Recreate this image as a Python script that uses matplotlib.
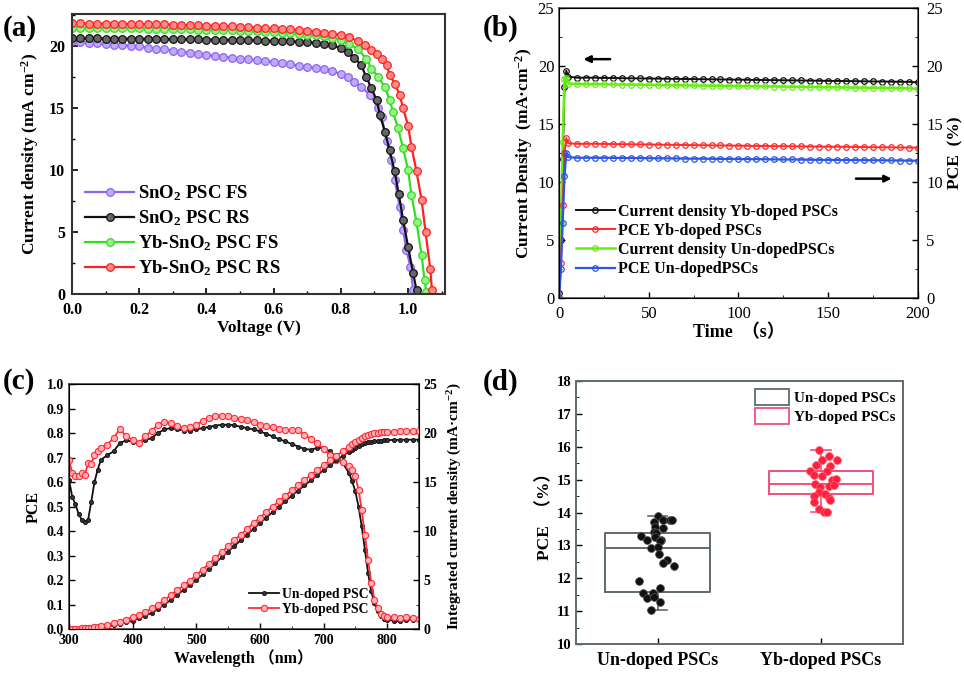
import matplotlib.pyplot as plt
import numpy as np
from matplotlib.ticker import MultipleLocator
from matplotlib.patches import Patch

plt.rcParams['font.family'] = ['Liberation Serif', 'Noto Sans CJK SC']
plt.rcParams['font.weight'] = 'bold'
plt.rcParams['axes.labelweight'] = 'bold'
plt.rcParams['mathtext.fontset'] = 'custom'
plt.rcParams['mathtext.rm'] = 'Liberation Serif:bold'
plt.rcParams['mathtext.bf'] = 'Liberation Serif:bold'
plt.rcParams['mathtext.default'] = 'bf'
plt.rcParams['xtick.direction'] = 'in'
plt.rcParams['ytick.direction'] = 'in'

# ---- (a) J-V curves ----
v_fs = [0, .025, .05, .075, .1, .125, .15, .175, .2, .225, .25, .275, .3, .325, .35, .375, .4, .425, .45, .475,
        .5, .525, .55, .575, .6, .625, .65, .675, .7, .725, .75, .775, .8, .82, .84, .86, .886, .911, .921, .936,
        .95, .96, .975, .985, .995, 1.007, 1.015]
j_fs = [20.4, 20.35, 20.3, 20.25, 20.2, 20.15, 20.1, 20.05, 20.0, 19.9, 19.8, 19.75, 19.65, 19.55, 19.5, 19.4,
        19.3, 19.25, 19.15, 19.1, 19.0, 18.95, 18.9, 18.8, 18.75, 18.65, 18.55, 18.45, 18.35, 18.25, 18.15, 18.0,
        17.75, 17.5, 17.15, 16.75, 16.1, 15.0, 14.3, 12.4, 10.8, 9.2, 7.05, 5.2, 3.55, 2.2, 0.3]
v_rs = [0, .025, .05, .075, .1, .125, .15, .175, .2, .225, .25, .275, .3, .325, .35, .375, .4, .425, .45, .475,
        .5, .525, .55, .575, .6, .625, .65, .675, .7, .725, .75, .775, .8, .82, .84, .86, .876, .891, .906, .916,
        .931, .945, .96, .972, .985, 1.0, 1.015, 1.025]
j_rs = [20.65, 20.65, 20.64, 20.64, 20.63, 20.63, 20.62, 20.62, 20.61, 20.6, 20.6, 20.59, 20.58, 20.58, 20.57,
        20.56, 20.55, 20.54, 20.53, 20.52, 20.51, 20.5, 20.49, 20.47, 20.45, 20.43, 20.41, 20.38, 20.35, 20.28,
        20.2, 20.08, 19.85, 19.55, 19.1, 18.5, 17.5, 16.6, 15.7, 14.5, 13.1, 11.6, 9.9, 8.1, 6.0, 3.8, 1.7, 0.3]
v_ybfs = [0, .025, .05, .075, .1, .125, .15, .175, .2, .225, .25, .275, .3, .325, .35, .375, .4, .425, .45, .475,
          .5, .525, .55, .575, .6, .625, .65, .675, .7, .725, .75, .775, .8, .825, .85, .876, .891, .911, .931,
          .945, .955, .97, .985, 1.0, 1.01, 1.025, 1.04, 1.049, 1.054]
j_ybfs = [21.5, 21.5, 21.49, 21.49, 21.48, 21.48, 21.47, 21.46, 21.45, 21.44, 21.43, 21.42, 21.41, 21.4, 21.38,
          21.36, 21.35, 21.33, 21.31, 21.29, 21.27, 21.24, 21.21, 21.18, 21.15, 21.11, 21.07, 21.02, 20.96, 20.88,
          20.8, 20.68, 20.5, 20.2, 19.8, 19.0, 18.2, 17.55, 16.7, 15.7, 14.7, 13.4, 11.8, 10.0, 8.0, 5.8, 3.15,
          1.1, 0.2]
v_ybrs = [0, .025, .05, .075, .1, .125, .15, .175, .2, .225, .25, .275, .3, .325, .35, .375, .4, .425, .45, .475,
          .5, .525, .55, .575, .6, .625, .65, .675, .7, .725, .75, .775, .8, .825, .85, .871, .89, .906, .921,
          .936, .945, .96, .975, .985, 1.0, 1.01, 1.025, 1.04, 1.052, 1.066, 1.071]
j_ybrs = [21.85, 21.85, 21.84, 21.84, 21.83, 21.83, 21.82, 21.81, 21.8, 21.79, 21.78, 21.77, 21.75, 21.74, 21.72,
          21.7, 21.68, 21.66, 21.64, 21.61, 21.58, 21.55, 21.52, 21.49, 21.45, 21.41, 21.37, 21.32, 21.26, 21.2,
          21.12, 21.02, 20.9, 20.72, 20.45, 20.1, 19.7, 19.4, 19.0, 18.5, 17.7, 17.0, 16.1, 15.0, 13.6, 11.9, 9.9,
          7.6, 5.0, 2.0, 0.3]
jv_labels = ['SnO$_2$ PSC FS', 'SnO$_2$ PSC RS', 'Yb-SnO$_2$ PSC FS', 'Yb-SnO$_2$ PSC RS']

# ---- (b) stability ----
t_b = [0, 1, 2, 3, 4, 5, 10, 15, 20, 25, 30, 35, 40, 45, 50, 55, 60, 65, 70, 75, 80, 85, 90, 95, 100, 105, 110,
       115, 120, 125, 130, 135, 140, 145, 150, 155, 160, 165, 170, 175, 180, 185, 190, 195, 200]
jd_yb = [0.4, 5.0, 12.0, 18.2, 19.6, 19.1, 19.0, 19.0, 19.0, 18.98, 18.97, 18.96, 18.95, 18.94, 18.93, 18.92,
         18.91, 18.9, 18.89, 18.88, 18.87, 18.86, 18.85, 18.84, 18.83, 18.82, 18.81, 18.8, 18.79, 18.78, 18.77,
         18.76, 18.75, 18.74, 18.73, 18.72, 18.71, 18.7, 18.69, 18.68, 18.67, 18.66, 18.65, 18.64, 18.6]
pce_yb = [0.0, 3.0, 8.0, 12.5, 13.8, 13.35, 13.3, 13.3, 13.3, 13.29, 13.28, 13.27, 13.26, 13.25, 13.24, 13.23,
          13.22, 13.21, 13.2, 13.19, 13.18, 13.17, 13.16, 13.15, 13.14, 13.13, 13.12, 13.11, 13.1, 13.1, 13.09,
          13.08, 13.07, 13.06, 13.05, 13.05, 13.04, 13.03, 13.02, 13.01, 13.0, 13.0, 12.99, 12.98, 12.97]
jd_un = [0.0, 6.5, 13.5, 18.9, 19.0, 18.5, 18.45, 18.45, 18.44, 18.43, 18.42, 18.41, 18.4, 18.39, 18.38, 18.37,
         18.36, 18.35, 18.34, 18.33, 18.32, 18.31, 18.3, 18.29, 18.28, 18.27, 18.26, 18.25, 18.24, 18.23, 18.22,
         18.21, 18.2, 18.19, 18.18, 18.17, 18.16, 18.15, 18.14, 18.13, 18.12, 18.11, 18.1, 18.08, 18.05]
pce_un = [0.0, 2.5, 6.5, 10.5, 12.5, 12.15, 12.1, 12.1, 12.1, 12.1, 12.09, 12.08, 12.08, 12.07, 12.06, 12.05,
          12.05, 12.04, 12.03, 12.02, 12.02, 12.01, 12.0, 12.0, 11.99, 11.98, 11.98, 11.97, 11.96, 11.95, 11.95,
          11.94, 11.93, 11.92, 11.92, 11.91, 11.9, 11.9, 11.89, 11.88, 11.88, 11.87, 11.86, 11.85, 11.85]

# ---- (c) EQE + integrated current ----
wl = [300, 305, 310, 315, 320, 325, 330, 335, 340, 345, 350, 360, 370, 380, 390, 400, 410, 420, 430, 440, 450,
      460, 470, 480, 490, 500, 510, 520, 530, 540, 550, 560, 570, 580, 590, 600, 610, 620, 630, 640, 650, 660,
      670, 680, 690, 700, 710, 720, 730, 740, 745, 750, 755, 760, 765, 770, 775, 780, 785, 790, 795, 800, 810,
      820, 830, 840, 850]
eqe_un = [0.61, 0.54, 0.51, 0.47, 0.446, 0.435, 0.446, 0.52, 0.60, 0.65, 0.69, 0.71, 0.725, 0.76, 0.77, 0.765,
          0.76, 0.77, 0.78, 0.80, 0.815, 0.82, 0.815, 0.81, 0.81, 0.815, 0.82, 0.825, 0.83, 0.834, 0.834, 0.832,
          0.825, 0.82, 0.815, 0.807, 0.797, 0.786, 0.775, 0.766, 0.755, 0.745, 0.735, 0.732, 0.739, 0.739, 0.725,
          0.705, 0.678, 0.637, 0.603, 0.562, 0.50, 0.42, 0.324, 0.229, 0.154, 0.106, 0.072, 0.052, 0.041, 0.038,
          0.034, 0.031, 0.038, 0.038, 0.038]
eqe_yb = [0.69, 0.637, 0.623, 0.626, 0.637, 0.63, 0.678, 0.675, 0.71, 0.725, 0.739, 0.752, 0.78, 0.816, 0.786,
          0.773, 0.759, 0.786, 0.81, 0.834, 0.845, 0.841, 0.827, 0.82, 0.824, 0.834, 0.848, 0.861, 0.871, 0.871,
          0.868, 0.861, 0.857, 0.852, 0.844, 0.834, 0.827, 0.824, 0.816, 0.814, 0.811, 0.811, 0.793, 0.776, 0.759,
          0.735, 0.712, 0.691, 0.68, 0.664, 0.65, 0.623, 0.569, 0.487, 0.385, 0.283, 0.188, 0.12, 0.086, 0.063,
          0.052, 0.049, 0.049, 0.045, 0.049, 0.045, 0.041]
jint_un = [0.0, 0.0, 0.01, 0.02, 0.03, 0.04, 0.05, 0.07, 0.09, 0.12, 0.15, 0.25, 0.38, 0.52, 0.68, 0.85, 1.08,
           1.35, 1.65, 2.05, 2.5, 2.98, 3.48, 3.98, 4.48, 5.0, 5.57, 6.15, 6.73, 7.31, 7.9, 8.48, 9.06, 9.64,
           10.22, 10.8, 11.37, 11.93, 12.49, 13.05, 13.6, 14.13, 14.65, 15.17, 15.69, 16.2, 16.7, 17.2, 17.65,
           18.1, 18.3, 18.5, 18.68, 18.83, 18.95, 19.04, 19.1, 19.15, 19.19, 19.22, 19.25, 19.27, 19.3, 19.3,
           19.32, 19.32, 19.32]
jint_yb = [0.02, 0.03, 0.04, 0.05, 0.07, 0.09, 0.12, 0.15, 0.2, 0.25, 0.3, 0.42, 0.58, 0.75, 0.95, 1.2, 1.45,
           1.75, 2.1, 2.5, 2.95, 3.45, 3.95, 4.45, 4.95, 5.5, 6.07, 6.66, 7.25, 7.85, 8.45, 9.05, 9.64, 10.22,
           10.8, 11.37, 11.94, 12.5, 13.05, 13.6, 14.15, 14.67, 15.19, 15.7, 16.2, 16.7, 17.2, 17.68, 18.15, 18.6,
           18.85, 19.05, 19.28, 19.48, 19.65, 19.8, 19.9, 19.98, 20.04, 20.08, 20.1, 20.12, 20.15, 20.18, 20.2,
           20.2, 20.22]

# ---- (d) PCE statistics ----
groups_d = ['Un-doped PSCs', 'Yb-doped PSCs']
pce_un_pts = [13.88, 13.78, 13.77, 13.77, 13.70, 13.57, 13.52, 13.42, 13.37, 13.29, 13.17, 13.25, 13.17, 13.12,
              12.91, 12.96, 12.73, 12.56, 12.46, 12.36, 11.93, 11.70, 11.54, 11.39, 11.54, 11.44, 11.29, 11.02]
jit_un = [0.0, 0.03, 0.075, 0.085, -0.02, -0.015, 0.03, -0.025, -0.01, -0.10, -0.065, -0.015, 0.02, 0.014, -0.04,
          0.004, 0.008, 0.06, 0.03, 0.1, -0.116, 0.014, -0.088, -0.067, -0.031, -0.02, 0.014, -0.041]
pce_yb_pts = [15.91, 15.71, 15.60, 15.60, 15.45, 15.42, 15.25, 15.27, 15.15, 15.10, 14.99, 15.02, 14.87, 14.79,
              14.81, 14.84, 14.64, 14.57, 14.49, 14.44, 14.39, 14.31, 14.10, 14.03, 14.03]
jit_yb = [-0.01, 0.047, 0.098, 0.006, -0.029, 0.053, -0.065, 0.037, -0.045, 0.006, 0.067, 0.094, -0.039, -0.004,
          0.047, 0.078, -0.014, 0.022, -0.045, 0.047, 0.057, -0.045, -0.014, 0.016, 0.037]
box_un = dict(med=12.93, q1=11.58, q3=13.38, whislo=11.02, whishi=13.88)
box_yb = dict(med=14.87, q1=14.57, q3=15.27, whislo=14.03, whishi=15.91)


def bold_ticks(ax, weight='bold'):
    for lbl in ax.get_xticklabels() + ax.get_yticklabels():
        lbl.set_fontweight(weight)


def frame(ax, col, lw):
    for s in ax.spines.values():
        s.set_color(col)
        s.set_linewidth(lw)


fig = plt.figure(figsize=(9.64, 6.76), dpi=100)

# panel a
ax1 = fig.add_axes([0.0747, 0.565, 0.387, 0.414])
jv = [(v_fs, j_fs, '#8c64f0', '#c0aaf8'), (v_rs, j_rs, '#111111', '#666666'),
      (v_ybfs, j_ybfs, '#33dd22', '#99f088'), (v_ybrs, j_ybrs, '#ff2020', '#ff8a8a')]
for (v, j, c, fc), lab in zip(jv, jv_labels):
    ax1.plot(v, j, '-', color=c, lw=1.6, marker='o', ms=5.5, mfc=fc, mec=c, mew=0.9, label=lab)
ax1.set_xlim(0, 1.11)
ax1.set_ylim(0, 22.6)
ax1.set_xticks(np.arange(0, 1.01, 0.2))
ax1.set_xticklabels(['%.1f' % x for x in np.arange(0, 1.01, 0.2)])
ax1.xaxis.set_minor_locator(MultipleLocator(0.1))
ax1.yaxis.set_major_locator(MultipleLocator(5))
ax1.yaxis.set_minor_locator(MultipleLocator(2.5))
ax1.tick_params(labelsize=11.5, width=1.2, length=4)
ax1.tick_params(axis='x', pad=6)
ax1.tick_params(axis='y', pad=5)
ax1.tick_params(which='minor', width=1, length=2.5)
ax1.set_xlabel('Voltage (V)', fontsize=12.5, labelpad=1)
ax1.set_ylabel('Current density (mA cm$^{-2}$)', fontsize=12.5, labelpad=6)
ax1.legend(loc='lower left', bbox_to_anchor=(0.0, 0.01), frameon=False, fontsize=13.5,
           handlelength=2.6, labelspacing=0.28, handletextpad=0.2, borderaxespad=0.3)
frame(ax1, '#333333', 1.5)
bold_ticks(ax1)

# panel b
ax2 = fig.add_axes([0.580, 0.559, 0.372, 0.429])
ax2r = ax2.twinx()
l1, = ax2.plot(t_b, jd_yb, '-', color='#111111', lw=1.4, marker='o', ms=4, mfc='none', mew=0.9,
               label='Current density Yb-doped PSCs')
l3, = ax2.plot(t_b, jd_un, '-', color='#66ee11', lw=1.8, marker='o', ms=4, mfc='none', mew=0.9,
               label='Current density Un-dopedPSCs')
l2, = ax2r.plot(t_b, pce_yb, '-', color='#ff2a2a', lw=1.4, marker='o', ms=4, mfc='none', mew=0.9,
                label='PCE Yb-doped PSCs')
l4, = ax2r.plot(t_b, pce_un, '-', color='#2a55e6', lw=1.6, marker='o', ms=4, mfc='none', mew=0.9,
                label='PCE Un-dopedPSCs')
for a in (ax2, ax2r):
    a.set_xlim(0, 200)
    a.set_ylim(0, 25)
    a.yaxis.set_major_locator(MultipleLocator(5))
    a.yaxis.set_minor_locator(MultipleLocator(2.5))
    a.tick_params(labelsize=12, width=1, length=4)
    a.tick_params(which='minor', length=2.5)
ax2.tick_params(axis='x', pad=6)
ax2r.tick_params(axis='y', pad=6)
ax2.xaxis.set_major_locator(MultipleLocator(50))
ax2.xaxis.set_minor_locator(MultipleLocator(25))
ax2.set_xlabel('Time  （s）', fontsize=13, labelpad=1)
ax2.set_ylabel('Current Density  (mA·cm$^{-2}$)', fontsize=12.5, labelpad=2)
ax2r.set_ylabel('PCE  (%)', fontsize=12.5, labelpad=3)
ax2.annotate('', xy=(12, 20.6), xytext=(30, 20.6),
             arrowprops=dict(arrowstyle='-|>', color='black', lw=1.8, mutation_scale=10))
ax2.annotate('', xy=(187, 10.3), xytext=(164, 10.3),
             arrowprops=dict(arrowstyle='-|>', color='black', lw=1.8, mutation_scale=10))
ax2r.legend(handles=[l1, l2, l3, l4], loc='lower left', bbox_to_anchor=(0.03, 0.05), frameon=False,
            fontsize=11.5, handlelength=2.4, labelspacing=0.2, handletextpad=0.2, borderaxespad=0)
frame(ax2, '#555555', 1.2)
bold_ticks(ax2, 'normal')
bold_ticks(ax2r, 'normal')

# panel c
ax3 = fig.add_axes([0.0716, 0.0695, 0.363, 0.3624])
ax3r = ax3.twinx()
ax3.plot(wl, eqe_un, '-', color='#111111', lw=1.3, marker='o', ms=3, mfc='#333333', mew=0.6)
ax3.plot(wl, eqe_yb, '-', color='#ff2a3a', lw=1.3, marker='o', ms=4.5, mfc='#ffb0b0', mew=0.8)
ax3r.plot(wl, jint_un, '-', color='#111111', lw=1.3, marker='o', ms=3, mfc='#333333', mew=0.6,
          label='Un-doped PSC')
ax3r.plot(wl, jint_yb, '-', color='#ff2a3a', lw=1.3, marker='o', ms=4.5, mfc='#ffb0b0', mew=0.8,
          label='Yb-doped PSC')
ax3.set_xlim(300, 850)
ax3.set_ylim(0, 1.0)
ax3r.set_ylim(0, 25)
ax3.xaxis.set_major_locator(MultipleLocator(100))
ax3.xaxis.set_minor_locator(MultipleLocator(50))
ax3.set_yticks(np.arange(0, 1.01, 0.1))
ax3.set_yticklabels(['%.1f' % y for y in np.arange(0, 1.01, 0.1)])
ax3r.yaxis.set_major_locator(MultipleLocator(5))
ax3r.yaxis.set_minor_locator(MultipleLocator(2.5))
for a in (ax3, ax3r):
    a.tick_params(labelsize=10, width=1, length=4)
    a.tick_params(which='minor', length=2.5)
ax3.set_xlabel('Wavelength （nm）', fontsize=11.5, labelpad=2)
ax3.set_ylabel('PCE', fontsize=11.5, labelpad=4)
ax3r.set_ylabel('Integrated current density (mA·cm$^{-2}$)', fontsize=11, labelpad=6)
ax3r.legend(loc='lower left', bbox_to_anchor=(0.5, 0.03), frameon=False, fontsize=9.8,
            handlelength=2.2, labelspacing=0.15, handletextpad=0.2, borderaxespad=0)
frame(ax3, '#444444', 1.2)
bold_ticks(ax3)
bold_ticks(ax3r)

# panel d
ax4 = fig.add_axes([0.5975, 0.0473, 0.339, 0.389])
for pos, st, col in [(1, box_un, '#5f6b6b'), (2, box_yb, '#f0507a')]:
    ax4.bxp([st], positions=[pos], widths=0.64, showfliers=False,
            boxprops=dict(color=col, lw=1.4), medianprops=dict(color=col, lw=1.4),
            whiskerprops=dict(color=col, lw=1.2), capprops=dict(color=col, lw=1.2), capwidths=0.12)
ax4.scatter([1 + d for d in jit_un], pce_un_pts, s=32, color='#111111', edgecolors='#555555',
            linewidths=0.5, zorder=3)
ax4.scatter([2 + d for d in jit_yb], pce_yb_pts, s=32, color='#ff2040', edgecolors='#ff6070',
            linewidths=0.5, zorder=3)
ax4.set_xlim(0.5, 2.5)
ax4.set_ylim(10, 18)
ax4.set_xticks([1, 2])
ax4.set_xticklabels(groups_d, fontsize=13)
ax4.yaxis.set_major_locator(MultipleLocator(1))
ax4.yaxis.set_minor_locator(MultipleLocator(0.5))
ax4.tick_params(axis='y', labelsize=10.5, width=1, length=4)
ax4.tick_params(axis='x', width=1, length=4, pad=6)
ax4.tick_params(which='minor', length=2.5)
ax4.set_ylabel('PCE  （%）', fontsize=12.5, labelpad=2)
ax4.legend(handles=[Patch(facecolor='none', edgecolor='#5f6b6b', lw=1.3, label='Un-doped PSCs'),
                    Patch(facecolor='none', edgecolor='#f0507a', lw=1.3, label='Yb-doped PSCs')],
           loc='upper right', bbox_to_anchor=(1.0, 1.0), frameon=False, fontsize=10.8,
           handlelength=2.3, handleheight=1.3, labelspacing=0.2, handletextpad=0.3, borderaxespad=0.1)
frame(ax4, '#5f6b6b', 1.4)
bold_ticks(ax4)

for x, y, s in [(0.003, 0.978, '(a)'), (0.501, 0.978, '(b)'), (0.003, 0.455, '(c)'), (0.501, 0.455, '(d)')]:
    fig.text(x, y, s, fontsize=21, fontweight='bold', va='top', ha='left')

fig.savefig('out.png', dpi=100)
